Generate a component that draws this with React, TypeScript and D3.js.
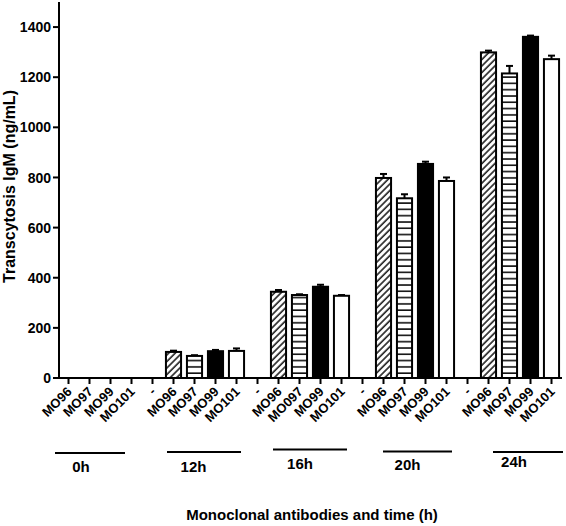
import React from 'react';
import * as d3 from 'd3';

// ---- data ----
const antibodies = ['MO96', 'MO97', 'MO99', 'MO101'];
const timePoints = ['0h', '12h', '16h', '20h', '24h'];
const xTickLabels = [
  'MO96', 'MO97', 'MO99', 'MO101', '-',
  'MO96', 'MO97', 'MO99', 'MO101', '-',
  'MO96', 'MO097', 'MO99', 'MO101', '-',
  'MO96', 'MO97', 'MO99', 'MO101', '-',
  'MO96', 'MO97', 'MO99', 'MO101',
];
const values0h = [0, 0, 0, 0];
const values12h = [104, 88, 107, 108];
const values16h = [344, 331, 364, 328];
const values20h = [798, 717, 854, 786];
const values24h = [1299, 1215, 1361, 1272];
const errors0h = [0, 0, 0, 0];
const errors12h = [5, 3, 5, 10];
const errors16h = [7, 3, 8, 3];
const errors20h = [16, 16, 9, 14];
const errors24h = [7, 30, 5, 14];
const yTicks = [0, 200, 400, 600, 800, 1000, 1200, 1400];

const valueSets = [values0h, values12h, values16h, values20h, values24h];
const errorSets = [errors0h, errors12h, errors16h, errors20h, errors24h];

// ---- layout (not data) ----
const W = 566;
const H = 526;
const groupLineLayout = [
  { dx0: -13.5, dx1: -6.5, y: 453, ldx: -9, ly: 472 },
  { dx0: -6.5, dx1: 4.5, y: 452, ldx: -10.5, ly: 472 },
  { dx0: -5.5, dx1: 5.5, y: 449.5, ldx: -10, ly: 469 },
  { dx0: -0.5, dx1: 5.5, y: 451.5, ldx: -10, ly: 470 },
  { dx0: 4.5, dx1: 11.5, y: 452, ldx: -14, ly: 467 },
];
const fills: Record<string, string> = {
  MO96: 'url(#hatchDiag)',
  MO97: 'url(#hatchHoriz)',
  MO99: '#000',
  MO101: '#fff',
};
const FONT = 'Liberation Sans, Arial, Helvetica, sans-serif';

export default function App() {
  const keys = xTickLabels.map((_, i) => String(i));
  const x = d3.scaleBand<string>().domain(keys).range([58, 562]).paddingInner(0.28).paddingOuter(0.14);
  const xc = d3.scaleBand<string>().domain(keys).range([58, 562]).padding(0);
  const y = d3.scaleLinear().domain([0, 1500]).range([378, 2]);
  const cx = (i: number) => (xc(String(i)) as number) + xc.bandwidth() / 2;

  const catIndex = (g: number, a: number) => (g === 0 ? a : g * 5 + a);

  const bars: any[] = [];
  valueSets.forEach((vals, g) => {
    vals.forEach((v, a) => {
      bars.push({ g, a, v, e: errorSets[g][a], idx: catIndex(g, a) });
    });
  });
  const bw = x.bandwidth();

  return (
    <svg width={W} height={H} style={{ position: 'absolute', left: 0, top: 0, background: '#fff' }} fontFamily={FONT}>
      <defs>
        <pattern id="hatchDiag" patternUnits="userSpaceOnUse" width="4.6" height="4.6" patternTransform="rotate(45)">
          <rect width="4.6" height="4.6" fill="#fff" />
          <line x1="1" y1="0" x2="1" y2="4.6" stroke="#000" strokeWidth="1.4" />
        </pattern>
        <pattern id="hatchHoriz" patternUnits="userSpaceOnUse" width="10" height="6.3" y="0.5">
          <rect width="10" height="6.3" fill="#fff" />
          <line x1="0" y1="1" x2="10" y2="1" stroke="#000" strokeWidth="1.5" />
        </pattern>
      </defs>
      <rect width={W} height={H} fill="#fff" />

      {bars.filter(b => b.v > 0).map((b, i) => {
        const bx = (x(String(b.idx)) as number);
        const top = y(b.v);
        const errTop = y(b.v + b.e);
        const mid = bx + bw / 2;
        return (
          <g key={i}>
            <line x1={mid} x2={mid} y1={top} y2={errTop} stroke="#000" strokeWidth={2} />
            <line x1={mid - 3.5} x2={mid + 3.5} y1={errTop} y2={errTop} stroke="#000" strokeWidth={2} />
            <rect x={bx} y={top} width={bw} height={y(0) - top} fill={fills[antibodies[b.a]]} stroke="#000" strokeWidth={2} />
          </g>
        );
      })}

      <line x1={59} x2={59} y1={y(1500)} y2={y(0) + 1} stroke="#000" strokeWidth={2} />
      {yTicks.map(t => (
        <g key={t}>
          <line x1={53} x2={59} y1={y(t)} y2={y(t)} stroke="#000" strokeWidth={2} />
          <text x={51} y={y(t)} dy="0.36em" textAnchor="end" fontSize={14} fontWeight="bold">{t}</text>
        </g>
      ))}
      <text transform={`translate(15,${(86 + 287) / 2}) rotate(-90)`} textAnchor="middle" fontSize={16} fontWeight="bold">
        Transcytosis IgM (ng/mL)
      </text>

      <line x1={58} x2={562} y1={y(0)} y2={y(0)} stroke="#000" strokeWidth={2} />
      {xTickLabels.map((lab, i) => (
        <g key={i}>
          <line x1={cx(i)} x2={cx(i)} y1={y(0)} y2={y(0) + 6} stroke="#000" strokeWidth={2} />
          <text transform={`translate(${cx(i) + 4},${392.5}) rotate(-45)`} textAnchor="end" fontSize={13} fontWeight="bold">{lab}</text>
        </g>
      ))}

      {timePoints.map((t, g) => {
        const L = groupLineLayout[g];
        const x0 = cx(catIndex(g, 0)) + L.dx0;
        const x1 = cx(catIndex(g, 3)) + L.dx1;
        return (
          <g key={t}>
            <line x1={x0} x2={x1} y1={L.y} y2={L.y} stroke="#000" strokeWidth={2} />
            <text x={(x0 + x1) / 2 + L.ldx} y={L.ly} textAnchor="middle" fontSize={15} fontWeight="bold">{t}</text>
          </g>
        );
      })}

      <text x={312} y={520} textAnchor="middle" fontSize={15} fontWeight="bold">Monoclonal antibodies and time (h)</text>
    </svg>
  );
}
